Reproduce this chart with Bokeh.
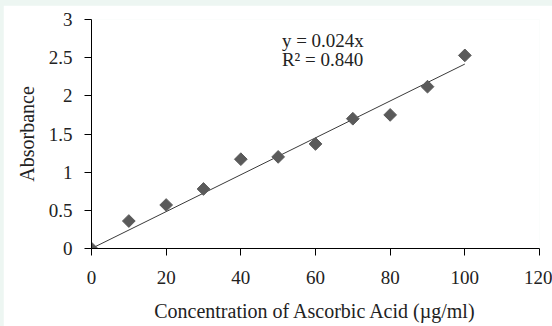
import numpy as np
from bokeh.plotting import figure
from bokeh.models import Label, Range1d, FixedTicker
from bokeh.layouts import column
from bokeh.embed import file_html
from bokeh.resources import INLINE

# Data
concentration = [0, 10, 20, 30, 40, 50, 60, 70, 80, 90, 100]
absorbance = [0.0, 0.36, 0.57, 0.78, 1.17, 1.20, 1.37, 1.70, 1.75, 2.12, 2.53]
x_ticks = [0, 20, 40, 60, 80, 100, 120]
y_ticks = [0, 0.5, 1, 1.5, 2, 2.5, 3]
equation_text = "y = 0.024x"
r2_text = "R\u00b2 = 0.840"

FONT = "Liberation Serif"
TEXT_COLOR = "#222222"

p = figure(width=549, height=321, output_backend="svg", toolbar_location=None,
           x_range=Range1d(0, 120), y_range=Range1d(0, 3),
           min_border_left=88, min_border_top=14, min_border_right=13, min_border_bottom=78)
p.styles = {"margin-left": "3px", "margin-top": "5px"}
p.background_fill_color = "white"
p.border_fill_color = "white"
p.outline_line_color = None
p.grid.visible = False

# Trendline through the origin (least squares)
xs = np.array(concentration, dtype=float)
ys = np.array(absorbance, dtype=float)
slope = float((xs * ys).sum() / (xs * xs).sum())
p.line([xs.min(), xs.max()], [slope * xs.min(), slope * xs.max()], line_color="#3a3a3a", line_width=1)

p.scatter(concentration, absorbance, marker="square", size=9, angle=np.pi / 4,
          fill_color="#5a5a5a", line_color="#5a5a5a")

for ax in (p.xaxis[0], p.yaxis[0]):
    ax.axis_line_color = "black"
    ax.major_tick_line_color = "black"
    ax.major_tick_out = 7
    ax.major_tick_in = 0
    ax.minor_tick_line_color = None
    ax.major_label_text_font = FONT
    ax.major_label_text_font_size = "19px"
    ax.major_label_text_color = TEXT_COLOR
    ax.axis_label_text_font = FONT
    ax.axis_label_text_font_size = "20px"
    ax.axis_label_text_font_style = "normal"
    ax.axis_label_text_color = TEXT_COLOR

p.xaxis.ticker = FixedTicker(ticks=x_ticks)
p.yaxis.ticker = FixedTicker(ticks=y_ticks)
p.xaxis.major_label_standoff = 15
p.yaxis.major_label_standoff = 12
p.xaxis.axis_label = "Concentration of Ascorbic Acid (\u00b5g/ml)"
p.yaxis.axis_label = "Absorbance"
p.xaxis.axis_label_standoff = 13
p.yaxis.axis_label_standoff = 8

for t, ty in [(equation_text, 2.86), (r2_text, 2.615)]:
    p.add_layout(Label(x=51, y=ty, text=t,
                       text_font=FONT, text_font_size="19px", text_color=TEXT_COLOR,
                       text_baseline="top"))

layout = column(p, styles={"background-color": "#edf6f2"}, width=552, height=326)
open("out.html", "w").write(file_html(layout, INLINE))
